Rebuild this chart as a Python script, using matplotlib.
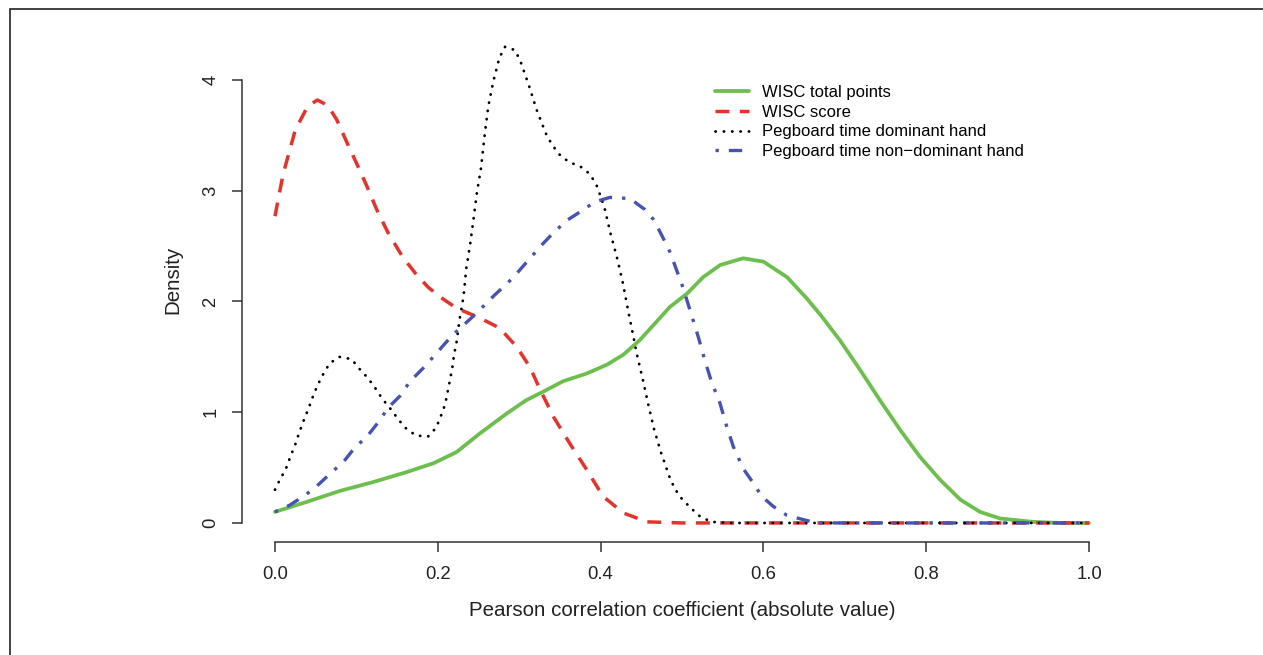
import matplotlib.pyplot as plt
from matplotlib.patches import Rectangle

plt.rcParams['font.family'] = ['Liberation Sans', 'DejaVu Sans']

# valores (densidad vs |r|)
x_total = [0.0, 0.039, 0.080, 0.121, 0.162, 0.195, 0.223, 0.252, 0.285, 0.309, 0.328, 0.354,
           0.383, 0.408, 0.428, 0.448, 0.469, 0.485, 0.506, 0.526, 0.547, 0.575, 0.600, 0.629,
           0.653, 0.670, 0.694, 0.719, 0.743, 0.768, 0.792, 0.817, 0.842, 0.866, 0.891, 0.931,
           0.965, 1.0]
y_total = [0.10, 0.19, 0.29, 0.37, 0.46, 0.54, 0.64, 0.81, 0.99, 1.11, 1.18, 1.28,
           1.35, 1.43, 1.52, 1.65, 1.82, 1.95, 2.07, 2.22, 2.33, 2.39, 2.36, 2.22,
           2.03, 1.88, 1.65, 1.38, 1.11, 0.84, 0.60, 0.39, 0.21, 0.10, 0.04, 0.01,
           0.0, 0.0]

x_score = [0.0, 0.010, 0.025, 0.040, 0.052, 0.065, 0.076, 0.090, 0.102, 0.113, 0.125, 0.139,
           0.157, 0.173, 0.188, 0.203, 0.223, 0.252, 0.276, 0.297, 0.313, 0.326, 0.342,
           0.362, 0.383, 0.403, 0.428, 0.457, 0.50, 0.60, 0.70, 0.80, 0.90, 1.0]
y_score = [2.77, 3.15, 3.55, 3.76, 3.82, 3.77, 3.64, 3.41, 3.22, 3.04, 2.83, 2.62,
           2.40, 2.25, 2.13, 2.04, 1.94, 1.85, 1.76, 1.59, 1.41, 1.20, 0.96,
           0.72, 0.48, 0.24, 0.09, 0.01, 0.0, 0.0, 0.0, 0.0, 0.0, 0.0]

x_dom = [0.0, 0.006, 0.0135, 0.019, 0.025, 0.030, 0.035, 0.041, 0.046, 0.052, 0.059, 0.067,
         0.079, 0.094, 0.104, 0.114, 0.123, 0.132, 0.142, 0.151, 0.160, 0.173, 0.188, 0.198,
         0.204, 0.209, 0.212, 0.215, 0.218, 0.220, 0.223, 0.227, 0.230, 0.232, 0.235, 0.2375,
         0.240, 0.244, 0.248, 0.253, 0.258, 0.262, 0.268, 0.2756, 0.2826, 0.295, 0.302, 0.312,
         0.3215, 0.3326, 0.340, 0.349, 0.361, 0.375, 0.387, 0.395, 0.400, 0.405, 0.412, 0.420,
         0.427, 0.433, 0.439, 0.445, 0.452, 0.4586, 0.4656, 0.474, 0.4844, 0.491, 0.4996,
         0.510, 0.522, 0.536, 0.56, 0.70, 0.85, 1.0]
y_dom = [0.30, 0.39, 0.49, 0.60, 0.71, 0.82, 0.92, 1.03, 1.13, 1.24, 1.34, 1.44,
         1.50, 1.48, 1.39, 1.31, 1.22, 1.12, 1.03, 0.94, 0.86, 0.79, 0.78, 0.86,
         0.97, 1.07, 1.18, 1.29, 1.41, 1.52, 1.63, 1.85, 1.97, 2.07, 2.30, 2.41,
         2.53, 2.75, 2.98, 3.20, 3.53, 3.76, 3.98, 4.20, 4.30, 4.27, 4.16, 3.95,
         3.73, 3.52, 3.42, 3.33, 3.26, 3.22, 3.15, 3.05, 2.95, 2.84, 2.62, 2.40,
         2.18, 1.95, 1.73, 1.51, 1.29, 1.07, 0.85, 0.64, 0.42, 0.31, 0.22,
         0.14, 0.06, 0.01, 0.0, 0.0, 0.0, 0.0]

x_nondom = [0.0, 0.018, 0.037, 0.051, 0.070, 0.084, 0.098, 0.113, 0.127, 0.139, 0.154, 0.166,
            0.181, 0.1945, 0.210, 0.223, 0.2396, 0.255, 0.270, 0.285, 0.299, 0.3276, 0.342,
            0.358, 0.375, 0.393, 0.4115, 0.436, 0.4545, 0.465, 0.475, 0.485, 0.4996, 0.5057,
            0.512, 0.520, 0.528, 0.536, 0.5467, 0.555, 0.563, 0.5753, 0.5876, 0.598, 0.612,
            0.6286, 0.649, 0.6655, 0.75, 0.85, 1.0]
y_nondom = [0.10, 0.16, 0.25, 0.33, 0.46, 0.55, 0.68, 0.78, 0.91, 1.04, 1.15, 1.28,
            1.39, 1.50, 1.63, 1.73, 1.84, 1.95, 2.06, 2.16, 2.27, 2.51, 2.62,
            2.73, 2.81, 2.90, 2.94, 2.93, 2.83, 2.74, 2.60, 2.45, 2.16, 2.02,
            1.87, 1.68, 1.47, 1.28, 1.08, 0.87, 0.69, 0.49, 0.36, 0.24, 0.15,
            0.07, 0.03, 0.0, 0.0, 0.0, 0.0]

labels = ['WISC total points', 'WISC score', 'Pegboard time dominant hand',
          'Pegboard time non\u2212dominant hand']
xticks = [0.0, 0.2, 0.4, 0.6, 0.8, 1.0]
yticks = [0, 1, 2, 3, 4]

fig = plt.figure(figsize=(12.63, 6.55), dpi=100)
ax = fig.add_axes([242.4 / 1263, 113 / 655, 879.2 / 1263, 514 / 655])

ax.plot(x_total, y_total, color='#6cbf4c', lw=2.7, solid_capstyle='round', label=labels[0])
ax.plot(x_score, y_score, color='#e5322b', lw=2.5, dashes=(4, 3), label=labels[1])
ax.plot(x_dom, y_dom, color='black', lw=2.0, dashes=(0.1, 2.9), dash_capstyle='round',
        label=labels[2])
ax.plot(x_nondom, y_nondom, color='#4653b3', lw=2.4, dashes=(1, 3, 4, 3), label=labels[3])

ax.set_xlim(-0.04, 1.04)
ax.set_ylim(-0.172, 4.47)

for s in ['top', 'right']:
    ax.spines[s].set_visible(False)
ax.spines['bottom'].set_bounds(0, 1)
ax.spines['left'].set_bounds(0, 4)
for s in ['bottom', 'left']:
    ax.spines[s].set_color('#333333')
    ax.spines[s].set_linewidth(1.1)

ax.set_xticks(xticks)
ax.set_xticklabels(['%.1f' % v for v in xticks])
ax.set_yticks(yticks)
ax.set_yticklabels([str(v) for v in yticks], rotation=90, va='center')
ax.tick_params(direction='out', length=7.5, width=1.1, color='#333333',
               labelsize=13.3, labelcolor='#222222')
ax.tick_params(axis='x', pad=10)
ax.tick_params(axis='y', pad=9)

ax.set_xlabel('Pearson correlation coefficient (absolute value)', fontsize=14.8, color='#222222')
ax.xaxis.set_label_coords(0.5, -0.115)
ax.set_ylabel('Density', fontsize=14.8, color='#222222')
ax.yaxis.set_label_coords(-0.068, 0.51)

ax.legend(loc='upper left', bbox_to_anchor=(715 / 1263, 1 - 85 / 655),
          bbox_transform=fig.transFigure, frameon=False, fontsize=12,
          handlelength=2.05, handletextpad=0.8, labelspacing=0.28, borderpad=0,
          borderaxespad=0)

# marco de la figura
fig.add_artist(Rectangle((10 / 1263, -0.05), 1.2, 1.05 - 9 / 655, transform=fig.transFigure,
                         fill=False, edgecolor='#222222', lw=1.2, clip_on=False))

fig.savefig('out.png', dpi=100)
